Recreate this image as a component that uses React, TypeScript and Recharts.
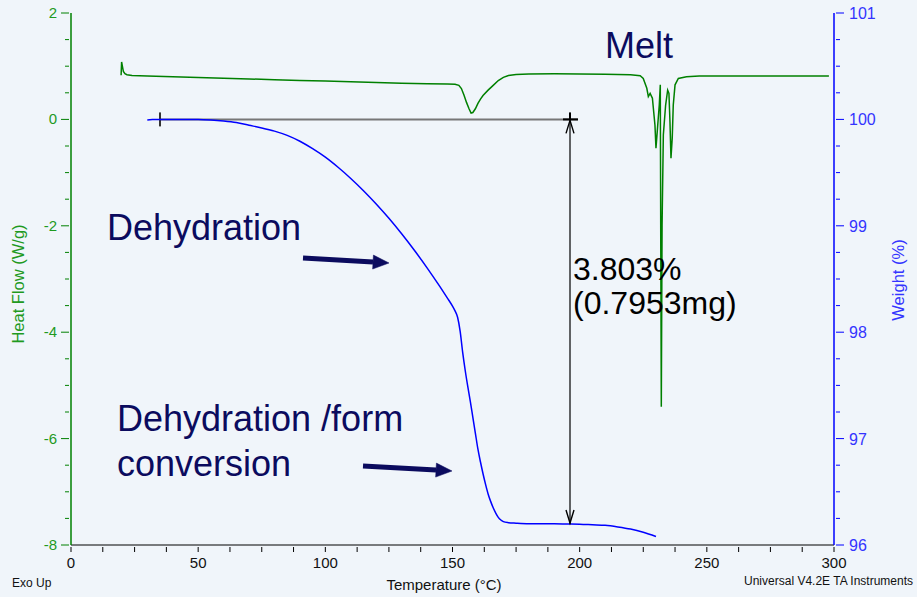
import React from 'react';
import {
  LineChart,
  Line,
  XAxis,
  YAxis,
  ReferenceLine,
} from 'recharts';

// TGA weight curve (°C, %)
const tgaTemp = [
  30, 32, 35, 40, 45, 50, 55, 60, 65, 70, 75, 80, 85, 90, 95, 100, 105, 110, 115, 120,
  125, 130, 135, 140, 145, 148, 150, 151, 152, 153, 154, 155, 156, 157, 158, 159, 160,
  161, 162, 163, 164, 165, 166, 167, 168, 169, 170, 172, 175, 180, 185, 190, 195, 200,
  205, 210, 215, 220, 225, 230,
];
const tgaWeight = [
  99.995, 99.998, 100.0, 100.0, 100.0, 100.0, 99.995, 99.985, 99.97, 99.945, 99.92,
  99.89, 99.85, 99.795, 99.725, 99.645, 99.55, 99.445, 99.33, 99.205, 99.07, 98.925,
  98.77, 98.605, 98.43, 98.32, 98.245, 98.2, 98.14, 98.01, 97.81, 97.64, 97.49, 97.35,
  97.2, 97.05, 96.9, 96.78, 96.67, 96.57, 96.48, 96.41, 96.35, 96.3, 96.26, 96.235,
  96.22, 96.21, 96.205, 96.2, 96.2, 96.199, 96.197, 96.195, 96.19, 96.185, 96.17,
  96.15, 96.12, 96.08,
];

// DSC heat flow curve (°C, W/g)
const dscTemp = [
  19.7, 19.9, 20.2, 20.6, 21.2, 22, 24, 27, 30, 40, 50, 60, 70, 80, 90, 100, 110, 120,
  130, 140, 148, 151, 152.5, 153.5, 154.5, 155.5, 156.5, 157.3, 158, 159, 160, 161, 162,
  164, 166, 168, 170, 172, 175, 180, 190, 200, 210, 220, 223.8, 225, 226.4, 227, 227.7,
  228.6, 229.6, 230, 230.5, 231.3, 231.7, 231.9, 232.1, 232.4, 232.9, 233.8, 234.6,
  235.1, 235.5, 235.9, 236.4, 236.8, 237.5, 238.8, 242, 247, 260, 280, 298,
];
const dscHeatFlow = [
  0.83, 1.08, 1.0, 0.9, 0.86, 0.84, 0.825, 0.82, 0.815, 0.8, 0.787, 0.773, 0.76, 0.747,
  0.733, 0.72, 0.707, 0.694, 0.68, 0.672, 0.667, 0.66, 0.64, 0.58, 0.46, 0.32, 0.2,
  0.12, 0.13, 0.2, 0.3, 0.38, 0.45, 0.55, 0.64, 0.73, 0.79, 0.825, 0.845, 0.855, 0.86,
  0.855, 0.85, 0.84, 0.82, 0.77, 0.585, 0.43, 0.49, 0.4, -0.105, -0.54, -0.23, 0.27,
  0.65, -2.5, -5.4, -2.0, -0.29, 0.27, 0.55, 0.49, -0.04, -0.73, -0.35, 0.27, 0.65,
  0.77, 0.8, 0.815, 0.815, 0.815, 0.815,
];

// step analysis
const stepStart = 35;
const stepEnd = 199.3;
const stepAt = 196.2;
const weightLoss = 3.803;
const massLoss = 0.7953;

// axis ticks
const tempTicks = Array.from({ length: 25 }, (_, i) => i * 12.5);
const hfTicks = Array.from({ length: 21 }, (_, i) => -8 + i * 0.5);
const wtTicks = Array.from({ length: 21 }, (_, i) => 96 + i * 0.25);

const tgaData = tgaTemp.map((t, i) => ({ t, w: tgaWeight[i] }));
const dscData = dscTemp.map((t, i) => ({ t, hf: dscHeatFlow[i] }));

const FONT = '"Liberation Sans", Arial, sans-serif';
const GREEN = '#008000';
const GREEN_TXT = '#1f9a1f';
const BLUE = '#0000ff';
const BLUE_TXT = '#3434ff';
const NAVY = '#0b0b5e';
const BG = '#f0f5fa';

const isMajor = (v: number, step: number) => Math.abs(v / step - Math.round(v / step)) < 1e-6;

const LeftTick = (props: any) => {
  const { x, y, payload } = props;
  const major = isMajor(payload.value, 2);
  return (
    <g>
      <line x1={x - (major ? 8 : 4)} x2={x} y1={y} y2={y} stroke={GREEN} strokeWidth={1} />
      {major && (
        <text x={x - 12} y={y + 5} textAnchor="end" fill={GREEN_TXT} fontSize={15} fontFamily={FONT}>
          {payload.value}
        </text>
      )}
    </g>
  );
};

const RightTick = (props: any) => {
  const { x, y, payload } = props;
  const major = isMajor(payload.value, 1);
  return (
    <g>
      <line x1={x} x2={x + (major ? 8 : 4)} y1={y} y2={y} stroke={BLUE} strokeWidth={1} />
      {major && (
        <text x={x + 13} y={y + 6} textAnchor="start" fill={BLUE_TXT} fontSize={16} fontFamily={FONT}>
          {payload.value}
        </text>
      )}
    </g>
  );
};

const BottomTick = (props: any) => {
  const { x, y, payload } = props;
  const major = isMajor(payload.value, 50);
  return (
    <g>
      <line x1={x} x2={x} y1={y} y2={y + 5} stroke="#000" strokeWidth={1} />
      {major && (
        <text x={x} y={y + 21} textAnchor="middle" fill="#111" fontSize={15} fontFamily={FONT}>
          {payload.value}
        </text>
      )}
    </g>
  );
};

// baseline of the step with start tick
const StepBaseline = (props: any) => {
  const { x1, y1, x2, y2 } = props;
  return (
    <g>
      <line x1={x1} y1={y1} x2={x2} y2={y2} stroke="#777" strokeWidth={2} />
      <line x1={x1} y1={y1 - 7} x2={x1} y2={y1 + 7} stroke="#333" strokeWidth={2} />
    </g>
  );
};

// vertical span of the weight step, with arrowheads
const StepSpan = (props: any) => {
  const { x1, y1, y2 } = props;
  const top = Math.min(y1, y2);
  const bot = Math.max(y1, y2);
  return (
    <g fill="none" stroke="#000">
      <line x1={x1 - 7} y1={top} x2={x1 + 8} y2={top} strokeWidth={2} />
      <line x1={x1} y1={top - 7} x2={x1} y2={top} strokeWidth={2} />
      <line x1={x1} y1={top} x2={x1} y2={bot} strokeWidth={1.2} />
      <polyline points={`${x1 - 4},${top + 14} ${x1},${top + 1} ${x1 + 4},${top + 14}`} strokeWidth={1.4} />
      <polyline points={`${x1 - 4},${bot - 14} ${x1},${bot - 1} ${x1 + 4},${bot - 14}`} strokeWidth={1.4} />
    </g>
  );
};

const Arrow = ({ x1, y1, x2, y2 }: { x1: number; y1: number; x2: number; y2: number }) => {
  const ang = Math.atan2(y2 - y1, x2 - x1);
  const len = 16;
  const half = 7;
  const bx = x2 - len * Math.cos(ang);
  const by = y2 - len * Math.sin(ang);
  const px = -Math.sin(ang) * half;
  const py = Math.cos(ang) * half;
  return (
    <g fill={NAVY} stroke={NAVY}>
      <line x1={x1} y1={y1} x2={bx} y2={by} strokeWidth={5} />
      <polygon points={`${x2},${y2} ${bx + px},${by + py} ${bx - px},${by - py}`} strokeWidth={0.5} />
    </g>
  );
};

const App: React.FC = () => {
  return (
    <div style={{ position: 'absolute', left: 0, top: 0, width: 917, height: 597, background: BG }}>
      <LineChart width={917} height={597} margin={{ top: 13, right: 0, bottom: 0, left: 0 }}>
        <XAxis
          xAxisId="t"
          type="number"
          dataKey="t"
          domain={[0, 300]}
          ticks={tempTicks}
          interval={0}
          height={52}
          tickSize={0}
          tickLine={false}
          tick={<BottomTick />}
          axisLine={{ stroke: '#000', strokeWidth: 1 }}
          allowDataOverflow
        />
        <XAxis xAxisId="top" orientation="top" type="number" domain={[0, 300]} height={0} tick={false} tickLine={false} axisLine={{ stroke: '#888', strokeWidth: 1.5 }} />
        <YAxis
          yAxisId="hf"
          type="number"
          domain={[-8, 2]}
          ticks={hfTicks}
          interval={0}
          width={71}
          tickSize={0}
          tickLine={false}
          tick={<LeftTick />}
          axisLine={{ stroke: GREEN, strokeWidth: 1.5 }}
          allowDataOverflow
        />
        <YAxis
          yAxisId="wt"
          orientation="right"
          type="number"
          domain={[96, 101]}
          ticks={wtTicks}
          interval={0}
          width={83}
          tickSize={0}
          tickLine={false}
          tick={<RightTick />}
          axisLine={{ stroke: BLUE, strokeWidth: 1.5 }}
          allowDataOverflow
        />
        <ReferenceLine
          xAxisId="t"
          yAxisId="wt"
          segment={[{ x: stepStart, y: 100 }, { x: stepEnd, y: 100 }]}
          shape={StepBaseline}
        />
        <Line
          xAxisId="t"
          yAxisId="hf"
          data={dscData}
          dataKey="hf"
          type="linear"
          stroke={GREEN}
          strokeWidth={1.5}
          dot={false}
          isAnimationActive={false}
        />
        <Line
          xAxisId="t"
          yAxisId="wt"
          data={tgaData}
          dataKey="w"
          type="monotone"
          stroke={BLUE}
          strokeWidth={1.5}
          dot={false}
          isAnimationActive={false}
        />
        <ReferenceLine
          xAxisId="t"
          yAxisId="wt"
          segment={[{ x: stepAt, y: 100 }, { x: stepAt, y: 100 - weightLoss }]}
          shape={StepSpan}
        />
      </LineChart>
      <svg
        width={917}
        height={597}
        style={{ position: 'absolute', left: 0, top: 0, pointerEvents: 'none' }}
        fontFamily={FONT}
      >
        <text transform="translate(24,284) rotate(-90)" textAnchor="middle" fill={GREEN_TXT} fontSize={16.5}>
          Heat Flow (W/g)
        </text>
        <text transform="translate(904,280) rotate(-90)" textAnchor="middle" fill={BLUE_TXT} fontSize={16.5}>
          Weight (%)
        </text>
        <text x={444} y={590} textAnchor="middle" fill="#111" fontSize={15}>
          Temperature (°C)
        </text>
        <text x={12} y={587} fill="#111" fontSize={12}>
          Exo Up
        </text>
        <text x={913} y={585} textAnchor="end" fill="#111" fontSize={12}>
          Universal V4.2E TA Instruments
        </text>

        <text x={605} y={58} fill={NAVY} fontSize={36}>
          Melt
        </text>
        <text x={107} y={240} fill={NAVY} fontSize={36}>
          Dehydration
        </text>
        <text x={117} y={431} fill={NAVY} fontSize={36}>
          Dehydration /form
        </text>
        <text x={117} y={476} fill={NAVY} fontSize={36}>
          conversion
        </text>
        <Arrow x1={303} y1={258} x2={389} y2={263} />
        <Arrow x1={363} y1={466} x2={452} y2={471} />

        <text x={573} y={280} fill="#000" fontSize={32}>
          {`${weightLoss}%`}
        </text>
        <text x={573} y={314} fill="#000" fontSize={32}>
          {`(${massLoss}mg)`}
        </text>
      </svg>
    </div>
  );
};

export default App;
